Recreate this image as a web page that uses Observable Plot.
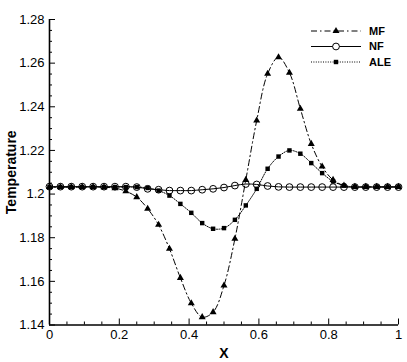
<!DOCTYPE html>
<html>
<head>
<meta charset="utf-8">
<script src="https://cdn.jsdelivr.net/npm/d3@7"></script>
<script src="https://cdn.jsdelivr.net/npm/@observablehq/plot@0.6"></script>
<style>
  html, body { margin: 0; padding: 0; background: #fff; }
  #wrap { position: relative; width: 407px; height: 362px; }
  #wrap svg { display: block; }
  #legend { position: absolute; left: 0; top: 0; }
  [aria-label="x-axis label"] text, [aria-label="y-axis label"] text { font-weight: bold; font-size: 14px; }
</style>
</head>
<body>
<div id="wrap"></div>
<script>
// ---- data ----
const xGrid = [0, 0.03125, 0.0625, 0.09375, 0.125, 0.15625, 0.1875, 0.21875, 0.25, 0.28125,
  0.3125, 0.34375, 0.375, 0.40625, 0.4375, 0.46875, 0.5, 0.53125, 0.5625, 0.59375,
  0.625, 0.65625, 0.6875, 0.71875, 0.75, 0.78125, 0.8125, 0.84375, 0.875, 0.90625,
  0.9375, 0.96875, 1];
const mfValues = [1.2032, 1.2032, 1.2032, 1.2032, 1.2032, 1.2031, 1.2027, 1.2013, 1.1986, 1.1933,
  1.1859, 1.1749, 1.1616, 1.1500, 1.1436, 1.1459, 1.1581, 1.1795, 1.2065, 1.2337,
  1.2551, 1.2627, 1.2556, 1.2391, 1.2230, 1.2126, 1.2065, 1.2039, 1.2033, 1.2033,
  1.2033, 1.2033, 1.2033];
const nfValues = [1.2034, 1.2034, 1.2034, 1.2034, 1.2034, 1.2034, 1.2034, 1.2034, 1.2032, 1.2024,
  1.2020, 1.2016, 1.2016, 1.2016, 1.2020, 1.2024, 1.2030, 1.2039, 1.2046, 1.2044,
  1.2037, 1.2033, 1.2032, 1.2032, 1.2032, 1.2032, 1.2032, 1.2032, 1.2032, 1.2032,
  1.2032, 1.2032, 1.2032];
const aleValues = [1.2032, 1.2032, 1.2032, 1.2032, 1.2032, 1.2032, 1.2032, 1.2032, 1.2032, 1.2028,
  1.2016, 1.1993, 1.1955, 1.1914, 1.1867, 1.1841, 1.1844, 1.1882, 1.1948, 1.2024,
  1.2116, 1.2172, 1.2200, 1.2185, 1.2142, 1.2096, 1.2058, 1.2039, 1.2033, 1.2033,
  1.2033, 1.2033, 1.2033];
const seriesNames = ["MF", "NF", "ALE"];
const xTicks = [0, 0.2, 0.4, 0.6, 0.8, 1];
const xTickLabels = ["0", "0.2", "0.4", "0.6", "0.8", "1"];
const xMinorTicks = [0.05, 0.1, 0.15, 0.25, 0.3, 0.35, 0.45, 0.5, 0.55, 0.65, 0.7, 0.75, 0.85, 0.9, 0.95];
const yTicks = [1.14, 1.16, 1.18, 1.2, 1.22, 1.24, 1.26, 1.28];
const yTickLabels = ["1.14", "1.16", "1.18", "1.2", "1.22", "1.24", "1.26", "1.28"];
const yMinorTicks = [1.145, 1.15, 1.155, 1.165, 1.17, 1.175, 1.185, 1.19, 1.195, 1.205, 1.21, 1.215,
  1.225, 1.23, 1.235, 1.245, 1.25, 1.255, 1.265, 1.27, 1.275];
const xLabel = "X";
const yLabel = "Temperature";

// ---- layout ----
const W = 407, H = 362;
const mL = 49, mR = 9, mT = 19, mB = 37.5;
const innerW = W - mL - mR, innerH = H - mT - mB;

const mk = (vals) => xGrid.map((x, i) => ({x, y: vals[i]}));
const mf = mk(mfValues), nf = mk(nfValues), ale = mk(aleValues);

const styles = {
  MF: {dash: "6,3,1.5,3", symbol: "triangle", r: 2.6, fill: "black", stroke: "none"},
  NF: {dash: null, symbol: "circle", r: 3.4, fill: "none", stroke: "black"},
  ALE: {dash: "1,1.4", symbol: "square", r: 2.5, fill: "black", stroke: "none"}
};

const chart = Plot.plot({
  width: W, height: H,
  marginLeft: mL, marginRight: mR, marginTop: mT, marginBottom: mB,
  style: {fontFamily: "'Liberation Sans', Arial, sans-serif", fontSize: "13px", color: "black", background: "white"},
  x: {domain: [0, 1]},
  y: {domain: [1.14, 1.28]},
  marks: [
    Plot.line(mf, {x: "x", y: "y", curve: "catmull-rom", stroke: "black", strokeWidth: 1, strokeDasharray: styles.MF.dash}),
    Plot.line(nf, {x: "x", y: "y", curve: "catmull-rom", stroke: "black", strokeWidth: 1}),
    Plot.line(ale, {x: "x", y: "y", curve: "catmull-rom", stroke: "black", strokeWidth: 1, strokeDasharray: styles.ALE.dash}),
    Plot.dot(mf, {x: "x", y: "y", symbol: "triangle", r: styles.MF.r, fill: "black"}),
    Plot.dot(nf, {x: "x", y: "y", symbol: "circle", r: styles.NF.r, fill: "none", stroke: "black", strokeWidth: 1}),
    Plot.dot(ale, {x: "x", y: "y", symbol: "square", r: styles.ALE.r, fill: "black"}),
    Plot.ruleX([0], {stroke: "black", strokeWidth: 1.6}),
    Plot.ruleY([1.14], {stroke: "black", strokeWidth: 1.6}),
    Plot.ruleY(yTicks, {stroke: "black", strokeWidth: 1, insetRight: innerW - 6}),
    Plot.ruleY(yMinorTicks, {stroke: "black", strokeWidth: 1, insetRight: innerW - 3}),
    Plot.ruleX(xTicks, {stroke: "black", strokeWidth: 1, insetTop: innerH - 6}),
    Plot.ruleX(xMinorTicks, {stroke: "black", strokeWidth: 1, insetTop: innerH - 3}),
    Plot.axisY(yTicks, {tickSize: 0, tickPadding: 5, tickFormat: d => yTickLabels[yTicks.indexOf(d)],
      label: yLabel, labelAnchor: "center", labelArrow: "none", labelOffset: 43}),
    Plot.axisX(xTicks, {tickSize: 0, tickPadding: 5, tickFormat: d => xTickLabels[xTicks.indexOf(d)],
      label: xLabel, labelAnchor: "center", labelArrow: "none", labelOffset: 33})
  ]
});

const wrap = document.getElementById("wrap");
wrap.appendChild(chart);

// ---- legend (overlay) ----
const leg = d3.select(wrap).append("svg").attr("id", "legend")
  .attr("width", W).attr("height", H)
  .style("font-family", "'Liberation Sans', Arial, sans-serif");
const rowY0 = 31, rowStep = 15.5;
seriesNames.forEach((name, i) => {
  const s = styles[name];
  const y = rowY0 + i * rowStep;
  const g = leg.append("g");
  g.append("line").attr("x1", 311).attr("x2", 361).attr("y1", y).attr("y2", y)
    .attr("stroke", "black").attr("stroke-width", 1)
    .attr("stroke-dasharray", s.dash);
  const sym = {triangle: d3.symbolTriangle, circle: d3.symbolCircle, square: d3.symbolSquare}[s.symbol];
  g.append("path").attr("d", d3.symbol(sym, Math.PI * s.r * s.r)())
    .attr("transform", `translate(336,${y})`)
    .attr("fill", s.fill === "none" ? "white" : s.fill).attr("stroke", s.stroke);
  g.append("text").attr("x", 369).attr("y", y).attr("dy", "0.36em")
    .attr("font-size", 11).attr("font-weight", "bold").text(name);
});
</script>
</body>
</html>
